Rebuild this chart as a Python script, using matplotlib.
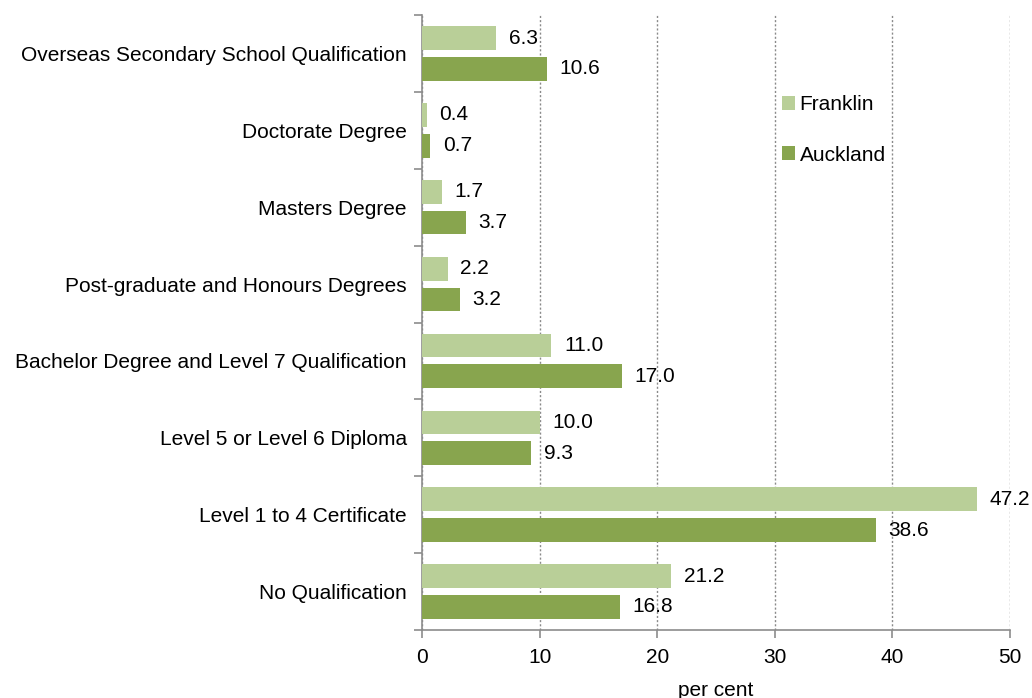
import numpy as np
import matplotlib.pyplot as plt
from matplotlib.ticker import FixedLocator

categories = [
    "Overseas Secondary School Qualification",
    "Doctorate Degree",
    "Masters Degree",
    "Post-graduate and Honours Degrees",
    "Bachelor Degree and Level 7 Qualification",
    "Level 5 or Level 6 Diploma",
    "Level 1 to 4 Certificate",
    "No Qualification",
]
franklin = [6.3, 0.4, 1.7, 2.2, 11.0, 10.0, 47.2, 21.2]
auckland = [10.6, 0.7, 3.7, 3.2, 17.0, 9.3, 38.6, 16.8]
x_ticks = [0, 10, 20, 30, 40, 50]

c_frank = "#b9cf98"
c_auck = "#88a54e"
grey = "#8c8c8c"

plt.rcParams["font.family"] = ["Liberation Sans", "DejaVu Sans"]
plt.rcParams["font.size"] = 15

fig = plt.figure(figsize=(10.32, 6.98), dpi=100)
ax = fig.add_axes([0.409, 0.0974, 0.5697, 0.8811])

y = np.arange(len(categories))
h = 0.31
off = 0.2
ax.barh(y - off, franklin, height=h, color=c_frank, label="Franklin", zorder=3)
ax.barh(y + off, auckland, height=h, color=c_auck, label="Auckland", zorder=3)

# value labels just right of each bar
for yi, v in zip(y, franklin):
    ax.annotate(f"{v:.1f}", (v, yi - off), xytext=(9, 0), textcoords="offset points",
                va="center", ha="left", zorder=4)
for yi, v in zip(y, auckland):
    ax.annotate(f"{v:.1f}", (v, yi + off), xytext=(9, 0), textcoords="offset points",
                va="center", ha="left", zorder=4)

ax.set_xlim(0, 50)
ax.set_ylim(len(categories) - 0.5, -0.5)
ax.set_xticks(x_ticks)
ax.set_yticks(y)
ax.set_yticklabels(categories)
ax.yaxis.set_minor_locator(FixedLocator(np.arange(-0.5, len(categories), 1)))
ax.tick_params(axis="y", which="major", length=0, pad=11)
ax.tick_params(axis="y", which="minor", length=6, color=grey, width=1.2)
ax.tick_params(axis="x", length=6, color=grey, width=1.2, pad=7)
ax.xaxis.grid(True, linestyle=(0, (1.5, 1.5)), color="#8a8a8a", linewidth=1, zorder=0)

for s in ["top", "right"]:
    ax.spines[s].set_visible(False)
for s in ["left", "bottom"]:
    ax.spines[s].set_color(grey)
    ax.spines[s].set_linewidth(1.2)

ax.set_xlabel("per cent", labelpad=10)

ax.legend(loc="upper left", bbox_to_anchor=(0.58, 0.90), frameon=False,
          handlelength=0.65, handleheight=0.65, handletextpad=0.2, labelspacing=1.5)

fig.savefig("out.png", dpi=100)
